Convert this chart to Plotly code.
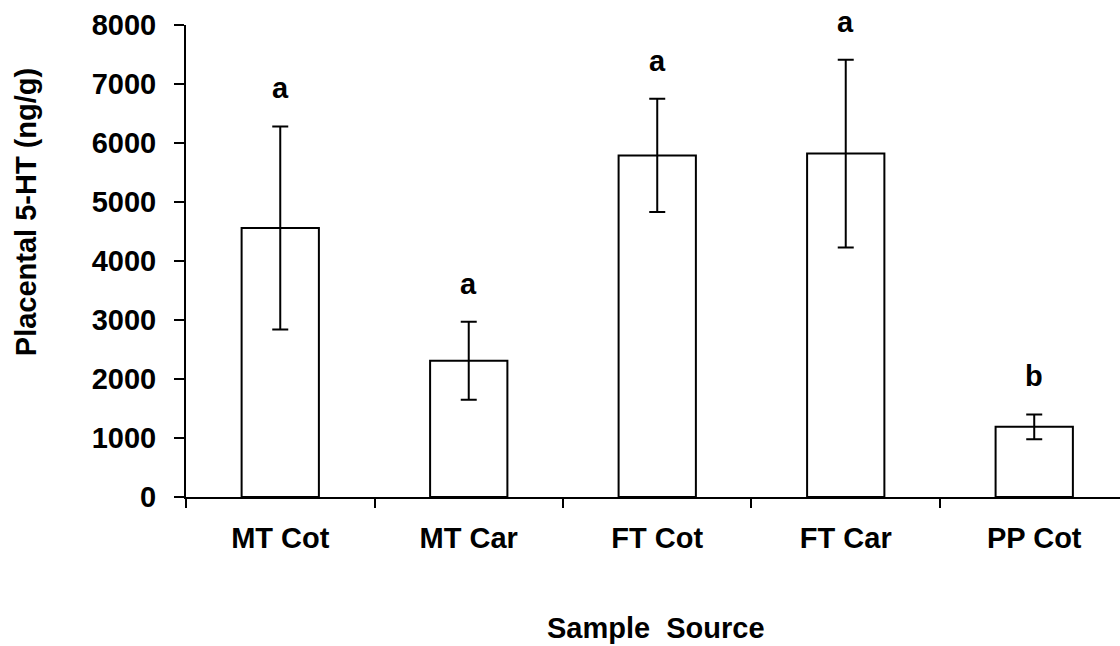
import plotly.graph_objects as go

categories = ["MT Cot", "MT Car", "FT Cot", "FT Car", "PP Cot"]
means = [4560, 2310, 5790, 5820, 1190]
errors = [1720, 660, 960, 1590, 210]
letters = ["a", "a", "a", "a", "b"]
y_ticks = [0, 1000, 2000, 3000, 4000, 5000, 6000, 7000, 8000]

FONT = "Liberation Sans, Arial, sans-serif"

fig = go.Figure()
fig.add_trace(go.Bar(
    x=categories, y=means,
    marker=dict(color="white", line=dict(color="black", width=2)),
    error_y=dict(type="data", array=errors, visible=True,
                 color="black", thickness=2, width=8),
    showlegend=False,
))

for c, m, e, l in zip(categories, means, errors, letters):
    fig.add_annotation(x=c, y=m + e, text=l, showarrow=False,
                       xref="x", yref="y", yanchor="middle", yshift=38,
                       font=dict(family=FONT, size=29, color="black", weight="bold"))

fig.add_annotation(text="Placental 5-HT (ng/g)", textangle=-90,
                   xref="paper", yref="paper", x=-0.171, y=0.604,
                   xanchor="center", yanchor="middle", showarrow=False,
                   font=dict(family=FONT, size=29, color="black", weight="bold"))
fig.add_annotation(text="Sample  Source",
                   xref="paper", yref="paper", x=0.503, y=-0.278,
                   xanchor="center", yanchor="middle", showarrow=False,
                   font=dict(family=FONT, size=29, color="black", weight="bold"))

fig.update_layout(
    width=1120, height=646,
    margin=dict(l=186, r=0, t=25, b=149, autoexpand=False),
    paper_bgcolor="white", plot_bgcolor="white",
    bargap=0.59,
    font=dict(family=FONT, color="black"),
    xaxis=dict(
        type="category", range=[-0.5, 4.455], automargin=False,
        showline=True, linecolor="black", linewidth=2,
        ticks="outside", tickson="boundaries", ticklen=9, tickwidth=1.5,
        tickcolor="black", showgrid=False, zeroline=False,
        tickfont=dict(family=FONT, size=29, color="black", weight="bold"),
        ticklabelstandoff=14,
    ),
    yaxis=dict(
        range=[0, 8000], tickvals=y_ticks, automargin=False,
        showline=True, linecolor="black", linewidth=2,
        ticks="outside", ticklen=10, tickwidth=1.5, tickcolor="black",
        showgrid=False, zeroline=False,
        tickfont=dict(family=FONT, size=29, color="black", weight="bold"),
        ticklabelstandoff=12,
    ),
)

fig.write_html("out.html", config={"displayModeBar": False},
               post_script="document.body.style.margin='0';document.body.style.padding='0';")
